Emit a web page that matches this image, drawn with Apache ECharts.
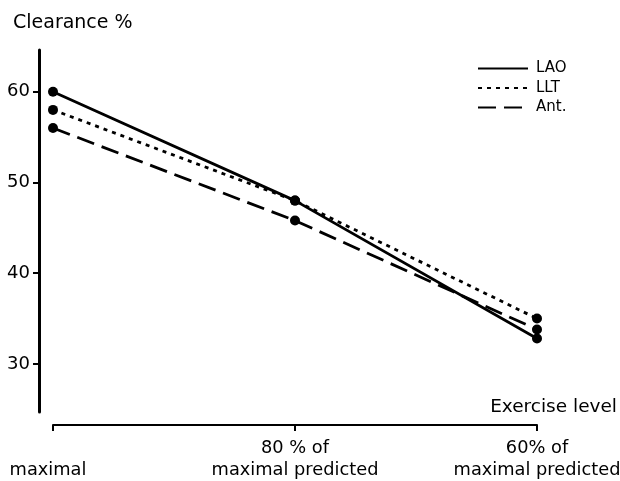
<!DOCTYPE html>
<html>
<head>
<meta charset="utf-8">
<script src="https://cdn.jsdelivr.net/npm/echarts@6/dist/echarts.min.js"></script>
<style>html,body{margin:0;padding:0;background:#fff}#c{width:620px;height:481px}</style>
</head>
<body>
<div id="c"></div>
<script>
var categories = ['maximal', '80 % of\nmaximal predicted', '60% of\nmaximal predicted'];
var seriesNames = ['LAO', 'LLT', 'Ant.'];
var lao = [60, 48, 32.8];
var llt = [58, 48, 35];
var ant = [56, 45.8, 33.8];
var yTicks = [30, 40, 50, 60];

var FONT = 'DejaVu Sans';
var chart = echarts.init(document.getElementById('c'), null, {renderer: 'canvas'});

function lineSeries(name, data, type) {
  return {
    name: name, type: 'line', data: data,
    symbol: 'circle', symbolSize: 10,
    itemStyle: {color: '#000'},
    lineStyle: {color: '#000', width: 2.8, type: type},
    z: 3
  };
}

chart.setOption({
  animation: false,
  backgroundColor: '#fff',
  title: {
    text: 'Clearance %', left: 8, top: 9,
    textStyle: {fontFamily: FONT, fontSize: 19, fontWeight: 'normal', color: '#000'}
  },
  legend: {
    orient: 'vertical', left: 472, top: 56,
    itemWidth: 50, itemHeight: 14, itemGap: 4.5,
    itemStyle: {opacity: 0},
    textStyle: {fontFamily: FONT, fontSize: 15, color: '#000', padding: [0, 0, 0, 3]},
    data: seriesNames
  },
  graphic: [{
    type: 'text', right: 3, top: 398,
    style: {text: 'Exercise level', fontFamily: FONT, fontSize: 18.5, fill: '#000'}
  }],
  grid: {left: 53, right: 83, top: 50, bottom: 69, containLabel: false, outerBoundsMode: 'none'},
  xAxis: {
    type: 'category', data: categories, boundaryGap: false,
    offset: 13,
    axisLine: {lineStyle: {color: '#000', width: 2}},
    axisTick: {show: true, length: 6, lineStyle: {color: '#000', width: 2}},
    axisLabel: {
      color: '#000', fontFamily: FONT, fontSize: 17.8, lineHeight: 22, margin: 12,
      interval: 0,
      formatter: function (v) { return v.indexOf('\n') < 0 ? '\n{m|' + v + '}' : v; },
      rich: {m: {fontFamily: FONT, fontSize: 17.8, lineHeight: 22, color: '#000', padding: [0, 10, 0, 0]}}
    },
    splitLine: {show: false}
  },
  yAxis: {
    type: 'value', min: 24.7, max: 64.6, offset: 14,
    axisLine: {show: true, lineStyle: {color: '#000', width: 3}},
    axisTick: {show: true, length: 6, customValues: yTicks, lineStyle: {color: '#000', width: 2}},
    axisLabel: {customValues: yTicks, color: '#000', fontFamily: FONT, fontSize: 18, margin: 9},
    splitLine: {show: false}
  },
  series: [
    lineSeries(seriesNames[0], lao, 'solid'),
    lineSeries(seriesNames[1], llt, [4, 5]),
    lineSeries(seriesNames[2], ant, [18, 8])
  ]
});
</script>
</body>
</html>
